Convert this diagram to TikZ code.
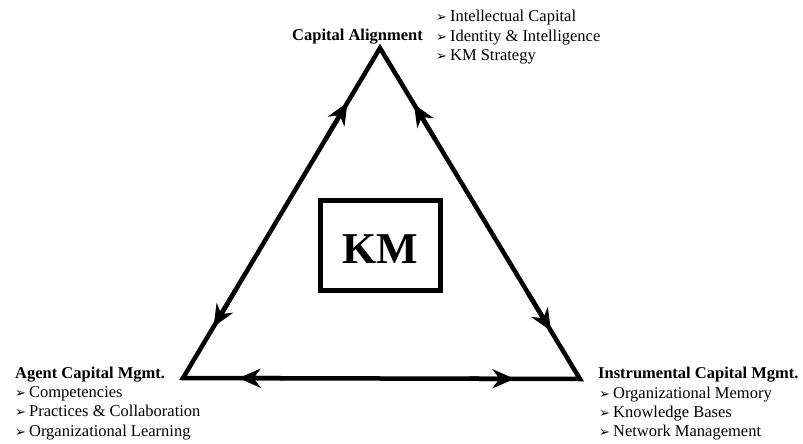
\documentclass[tikz,border=0pt]{standalone}
\usepackage{fontspec}
\setmainfont{Liberation Serif}
\newfontfamily\dejavu{DejaVu Sans}
\usetikzlibrary{arrows.meta,calc}
\newcommand\bul{{\dejavu\fontsize{13}{13}\selectfont ➢}\hspace{3pt}}
\begin{document}
\begin{tikzpicture}[x=1pt,y=-1pt,
  tri/.style={line width=4.5pt, line join=miter},
  tipline/.style={line width=4.5pt, -{Stealth[length=22pt,width=19pt,inset=7pt]}},
  ttl/.style={font=\bfseries\fontsize{16.5}{19}\selectfont, anchor=base west, inner sep=0pt},
  itm/.style={font=\fontsize{16.5}{19}\selectfont, anchor=base west, inner sep=0pt},
  kmbox/.style={draw, line width=5pt, minimum width=120pt, minimum height=90pt,
    font=\bfseries\fontsize{44}{44}\selectfont, text height=35pt, text depth=0pt, inner sep=0pt}
]
\useasboundingbox (0,0) rectangle (803,444);
\coordinate (A) at (380,48);
\coordinate (L) at (183,378);
\coordinate (R) at (580,379);
\draw[tri] (A) -- (L) -- (R) -- cycle;
% arrow tips on the sides, pointing outwards to the corners
\draw[tipline] ($(A)!0.28!(L)$) -- ($(A)!0.165!(L)$);
\draw[tipline] ($(A)!0.73!(L)$) -- ($(A)!0.845!(L)$);
\draw[tipline] ($(L)!0.25!(R)$) -- ($(L)!0.14!(R)$);
\draw[tipline] ($(L)!0.72!(R)$) -- ($(L)!0.835!(R)$);
\draw[tipline] ($(A)!0.28!(R)$) -- ($(A)!0.17!(R)$);
\draw[tipline] ($(A)!0.74!(R)$) -- ($(A)!0.855!(R)$);

\node[kmbox] (km) at (380.5,245.5) {KM};

% top
\node[ttl] (ca) at (292,41) {Capital Alignment};
\node[itm] (ca1) at (436,22) {\bul Intellectual Capital};
\node[itm] (ca2) at (436,41.5) {\bul Identity \& Intelligence};
\node[itm] (ca3) at (436,61) {\bul KM Strategy};

% bottom left
\node[ttl] (ag) at (15,378) {Agent Capital Mgmt.};
\node[itm] (ag1) at (15,397) {\bul Competencies};
\node[itm] (ag2) at (15,416.5) {\bul Practices \& Collaboration};
\node[itm] (ag3) at (15,436) {\bul Organizational Learning};

% bottom right
\node[ttl] (in) at (598,378) {Instrumental Capital Mgmt.};
\node[itm] (in1) at (599,398) {\bul Organizational Memory};
\node[itm] (in2) at (599,417) {\bul Knowledge Bases};
\node[itm] (in3) at (599,436) {\bul Network Management};
\end{tikzpicture}
\end{document}
